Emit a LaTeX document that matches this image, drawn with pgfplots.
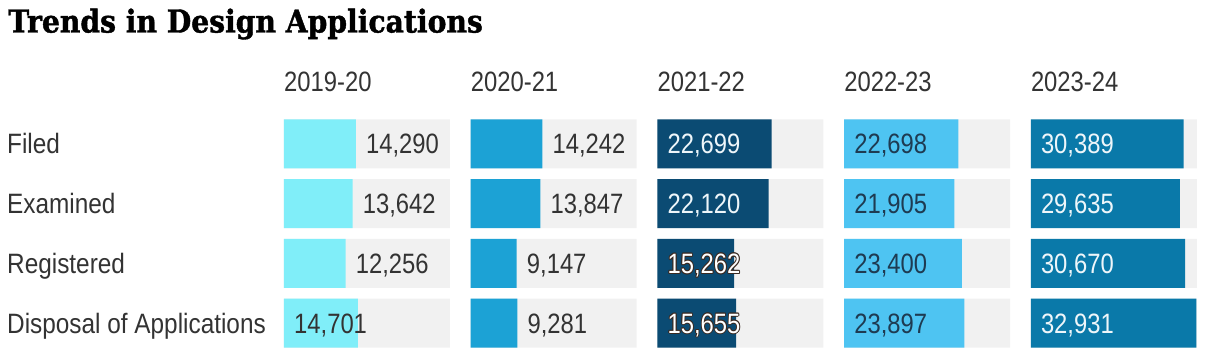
\documentclass[border=0pt]{standalone}
\usepackage{fontspec}
\setmainfont{Liberation Sans}[FakeStretch=0.85]
\newfontfamily\rowfont{Liberation Sans}[FakeStretch=0.87]
\newfontfamily\titlefont{DejaVu Serif}[FakeStretch=0.895, BoldFeatures={FakeBold=1.3}]
\usepackage{pgfplots}
\pgfplotsset{compat=1.18}
\usepackage{pgfplotstable}

\definecolor{track}{HTML}{F1F1F1}
\definecolor{cA}{HTML}{80EEF9}
\definecolor{cB}{HTML}{1CA2D5}
\definecolor{cC}{HTML}{0B4B73}
\definecolor{cD}{HTML}{4EC4F2}
\definecolor{cE}{HTML}{0A79A9}
\definecolor{txt}{HTML}{333333}
\definecolor{txtD}{HTML}{1E3B52}
\definecolor{wht}{HTML}{EEF6FA}
\definecolor{olc}{HTML}{3A2A22}

\newcommand\lblfont{\fontsize{28}{30}\selectfont}
\newcommand{\outl}[1]{%
  \rlap{\hspace{-0.9pt}\textcolor{olc}{#1}}%
  \rlap{\hspace{0.9pt}\textcolor{olc}{#1}}%
  \rlap{\raisebox{0.9pt}{\textcolor{olc}{#1}}}%
  \rlap{\raisebox{-0.9pt}{\textcolor{olc}{#1}}}%
  \rlap{\hspace{0.65pt}\raisebox{0.65pt}{\textcolor{olc}{#1}}}%
  \rlap{\hspace{-0.65pt}\raisebox{0.65pt}{\textcolor{olc}{#1}}}%
  \rlap{\hspace{0.65pt}\raisebox{-0.65pt}{\textcolor{olc}{#1}}}%
  \rlap{\hspace{-0.65pt}\raisebox{-0.65pt}{\textcolor{olc}{#1}}}%
  \textcolor{white}{#1}}

\pgfplotsset{/pgf/number format/.cd, 1000 sep={,}, fixed, precision=0, assume math mode=true}

\pgfplotsset{
  panel/.style={
    width=166pt, height=239pt, scale only axis,
    xmin=0, xmax=33000, ymin=0.5, ymax=4.5, y dir=reverse,
    axis line style={draw=none}, xtick=\empty, ytick=\empty,
    major tick length=0pt, clip=false,
    bar width=49pt, bar shift=0pt,
    title style={at={(0,1)}, anchor=base west, yshift=17pt, inner sep=0pt, font=\lblfont, text=txt},
    anchor=south west,
  },
  trackbar/.style={xbar, fill=track, draw=none},
  lab/.style={draw=none, no markers, point meta=explicit, nodes near coords,
    nodes near coords style={anchor=base west, yshift=-10pt, xshift=10pt, inner sep=0pt, font=\lblfont, text=#1}},
}

\pgfplotstableread{
y v lx t
1 14290 14290 33000
2 13642 13642 33000
3 12256 12256 33000
4 14701 0 33000
}\colA
\pgfplotstableread{
y v lx t
1 14242 14242 33000
2 13847 13847 33000
3 9147 9147 33000
4 9281 9281 33000
}\colB
\pgfplotstableread{
y v lx t
1 22699 0 33000
2 22120 0 33000
3 15262 0 33000
4 15655 0 33000
}\colC
\pgfplotstableread{
y v lx t
1 22698 0 33000
2 21905 0 33000
3 23400 0 33000
4 23897 0 33000
}\colD
\pgfplotstableread{
y v lx t
1 30389 0 33000
2 29635 0 33000
3 30670 0 33000
4 32931 0 33000
}\colE

\begin{document}
\begin{tikzpicture}
\useasboundingbox (0,0) rectangle (1205pt,353pt);
\node[anchor=base west, inner sep=0pt] at (8pt,320.5pt)
  {\titlefont\bfseries\fontsize{31.5}{34}\selectfont Trends in Design Applications};

\begin{axis}[panel, at={(284pt,0pt)}, title={2019-20},
  ytick={1,2,3,4},
  yticklabels={Filed,Examined,Registered,Disposal of Applications},
  yticklabel style={anchor=base west, xshift=-277pt, yshift=-10pt, inner sep=0pt, font=\rowfont\lblfont, text=txt}]
\addplot[trackbar] table[x=t, y=y] {\colA};
\addplot[xbar, fill=cA, draw=none] table[x=v, y=y] {\colA};
\addplot[lab=txt] table[x=lx, y=y, meta=v] {\colA};
\end{axis}

\begin{axis}[panel, at={(470.7pt,0pt)}, title={2020-21}]
\addplot[trackbar] table[x=t, y=y] {\colB};
\addplot[xbar, fill=cB, draw=none] table[x=v, y=y] {\colB};
\addplot[lab=txt] table[x=lx, y=y, meta=v] {\colB};
\end{axis}

\begin{axis}[panel, at={(657.4pt,0pt)}, title={2021-22}]
\addplot[trackbar] table[x=t, y=y] {\colC};
\addplot[xbar, fill=cC, draw=none] table[x=v, y=y] {\colC};
\addplot[lab=wht, skip coords between index={2}{4}] table[x=lx, y=y, meta=v] {\colC};
\addplot[lab=white, skip coords between index={0}{2},
  nodes near coords={\outl{\pgfmathprintnumber{\pgfplotspointmeta}}}] table[x=lx, y=y, meta=v] {\colC};
\end{axis}

\begin{axis}[panel, at={(844.1pt,0pt)}, title={2022-23}]
\addplot[trackbar] table[x=t, y=y] {\colD};
\addplot[xbar, fill=cD, draw=none] table[x=v, y=y] {\colD};
\addplot[lab=txtD] table[x=lx, y=y, meta=v] {\colD};
\end{axis}

\begin{axis}[panel, at={(1030.8pt,0pt)}, title={2023-24}]
\addplot[trackbar] table[x=t, y=y] {\colE};
\addplot[xbar, fill=cE, draw=none] table[x=v, y=y] {\colE};
\addplot[lab=wht] table[x=lx, y=y, meta=v] {\colE};
\end{axis}
\end{tikzpicture}
\end{document}
